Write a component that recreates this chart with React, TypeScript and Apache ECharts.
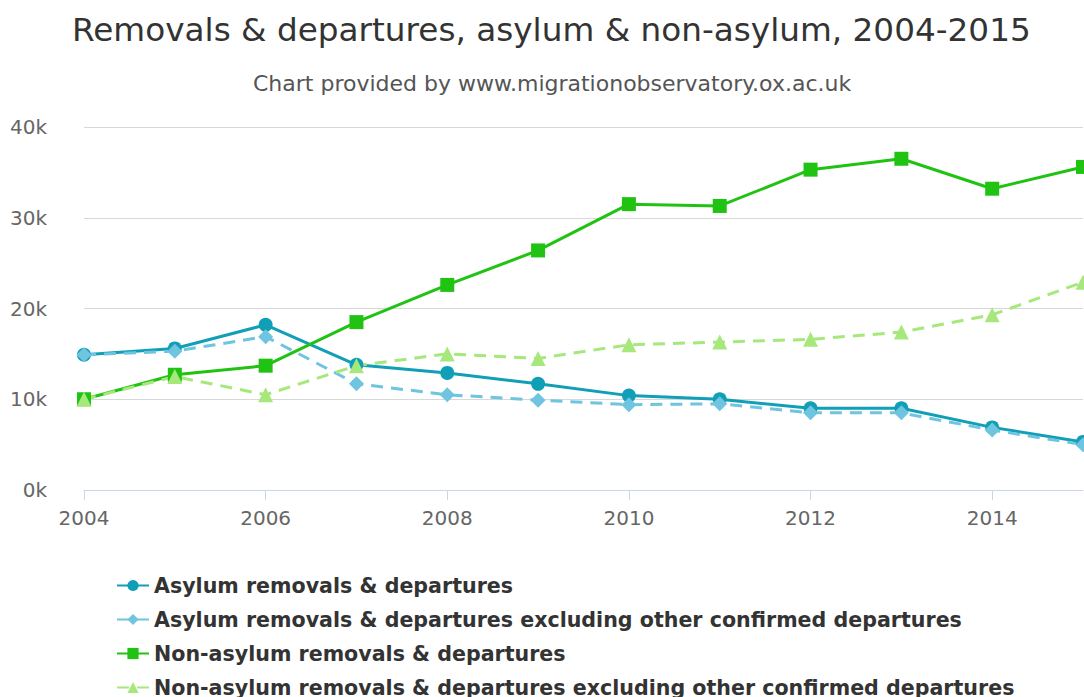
import React, { useEffect, useRef } from "react";
import * as echarts from "echarts";

const years = ["2004", "2005", "2006", "2007", "2008", "2009", "2010", "2011", "2012", "2013", "2014", "2015"];
const asylum = [14900, 15600, 18200, 13800, 12900, 11700, 10400, 10000, 9000, 9000, 6900, 5300];
const asylumExcl = [14900, 15300, 16900, 11700, 10500, 9900, 9400, 9500, 8500, 8500, 6600, 5000];
const nonAsylum = [10000, 12700, 13700, 18500, 22600, 26400, 31500, 31300, 35300, 36500, 33200, 35600];
const nonAsylumExcl = [10000, 12500, 10500, 13700, 15000, 14500, 16000, 16300, 16600, 17400, 19300, 22900];

const seriesNames = [
  "Asylum removals & departures",
  "Asylum removals & departures excluding other confirmed departures",
  "Non-asylum removals & departures",
  "Non-asylum removals & departures excluding other confirmed departures",
];

const FONT = "DejaVu Sans";

export default function App() {
  const ref = useRef<HTMLDivElement>(null);
  useEffect(() => {
    document.body.style.margin = "0";
    const chart = echarts.init(ref.current!, null, { renderer: "svg" });
    const mk = (name: string, data: number[], color: string, symbol: string, dashed: boolean, size: number) => ({
      name,
      type: "line",
      data,
      symbol,
      symbolSize: size,
      showSymbol: true,
      itemStyle: { color },
      lineStyle: { color, width: 3, type: dashed ? [12, 8] : "solid" },
      emphasis: { disabled: true },
    });
    chart.setOption({
      animation: false,
      textStyle: { fontFamily: FONT },
      title: [
        {
          text: "Removals & departures, asylum & non-asylum, 2004-2015",
          left: 67,
          top: 8,
          textStyle: { fontFamily: FONT, fontSize: 32.7, fontWeight: "normal", color: "#333333" },
        },
        {
          text: "Chart provided by www.migrationobservatory.ox.ac.uk",
          left: 248,
          top: 67,
          textStyle: { fontFamily: FONT, fontSize: 22, fontWeight: "normal", color: "#555555" },
        },
      ],
      grid: { left: 84, right: 1, top: 127, bottom: 207, containLabel: false },
      legend: {
        orient: "vertical",
        left: 111,
        top: 570,
        height: 160,
        itemWidth: 32,
        itemHeight: 14,
        itemGap: 13,
        data: seriesNames,
        textStyle: { fontFamily: FONT, fontSize: 20.6, fontWeight: "bold", color: "#333333", lineHeight: 20 },
      },
      xAxis: {
        type: "category",
        data: years,
        boundaryGap: false,
        axisLine: { lineStyle: { color: "#ccd6eb", width: 1 } },
        axisTick: { show: true, interval: 1, length: 10, lineStyle: { color: "#ccd6eb" } },
        axisLabel: { interval: 1, margin: 18, fontSize: 20, color: "#666666", fontFamily: FONT },
        splitLine: { show: false },
      },
      yAxis: {
        type: "value",
        min: 0,
        max: 40000,
        interval: 10000,
        axisLine: { show: false },
        axisTick: { show: false },
        axisLabel: {
          margin: 37,
          fontSize: 20,
          color: "#666666",
          fontFamily: FONT,
          formatter: (v: number) => v / 1000 + "k",
        },
        splitLine: { lineStyle: { color: "#d8d8d8", width: 1 } },
      },
      series: [
        mk(seriesNames[0], asylum, "#109fb6", "circle", false, 14),
        mk(seriesNames[1], asylumExcl, "#6fc4df", "diamond", true, 15),
        mk(seriesNames[2], nonAsylum, "#21c313", "rect", false, 14),
        mk(seriesNames[3], nonAsylumExcl, "#a6e87c", "triangle", true, 15),
      ],
    });
    return () => chart.dispose();
  }, []);
  return <div ref={ref} style={{ width: 1084, height: 697 }} />;
}
